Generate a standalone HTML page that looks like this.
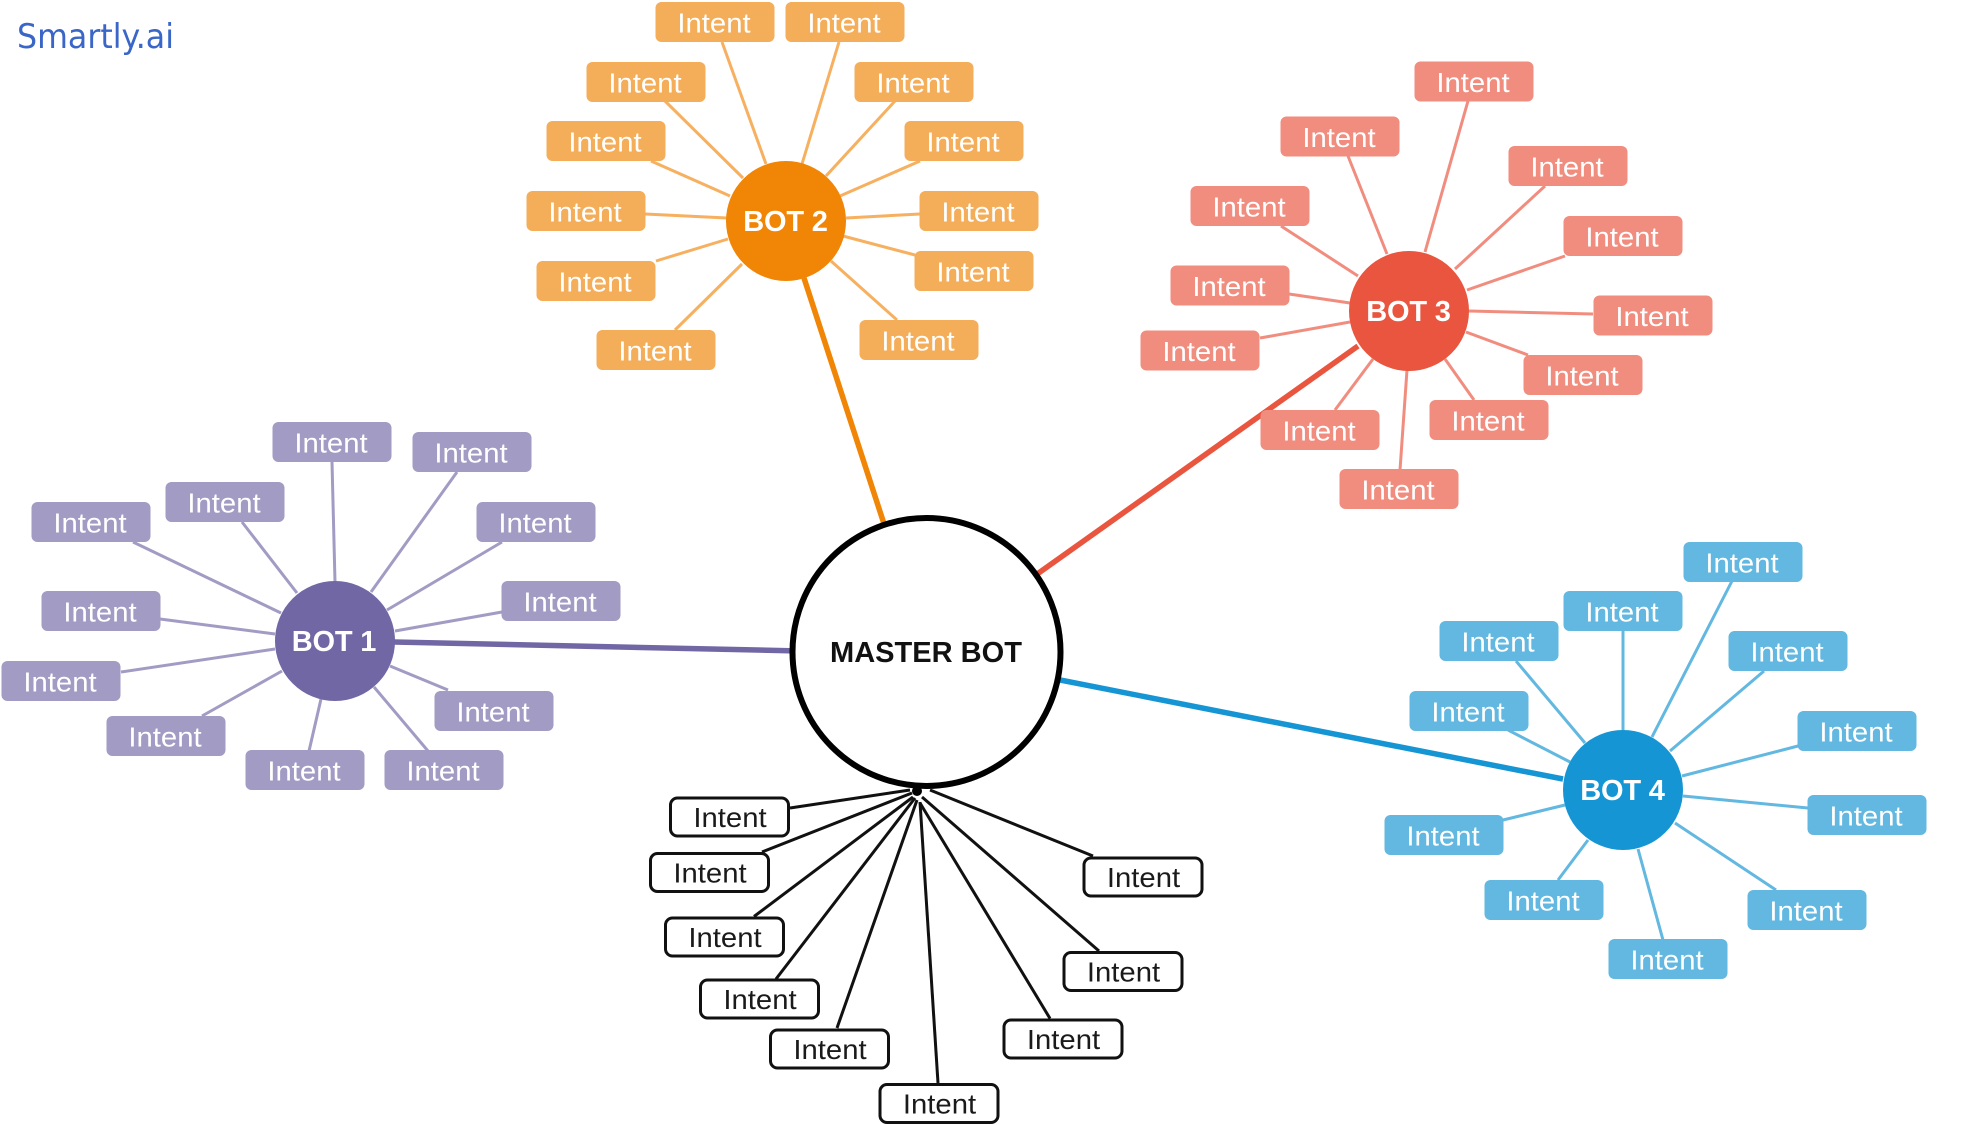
<!DOCTYPE html>
<html>
<head>
<meta charset="utf-8">
<style>
html,body{margin:0;padding:0;background:#fff;width:1964px;height:1125px;overflow:hidden}
svg{display:block;font-family:"Liberation Sans",sans-serif}
.b rect{x:-59.5px;y:-20px;width:119px;height:40px;rx:6px;ry:6px}
.b text{font-size:27.5px;fill:#fff;text-anchor:middle;transform:translateX(-1px) scaleX(1.065)}
.o rect{fill:#f4ad58}.p rect{fill:#a29bc4}.r rect{fill:#f18d7f}.u rect{fill:#62b8e0}
.k rect{fill:#fff;stroke:#111;stroke-width:3;x:-59px;y:-19px;width:118px;height:38px;rx:7px;ry:7px}
.b.k text{fill:#1a1a1a;transform:translateX(0.5px) scaleX(1.065)}
.c{font-size:29px;font-weight:bold;fill:#fff;text-anchor:middle;letter-spacing:-.2px}
line{fill:none}
.lo line{stroke:#f6b060;stroke-width:3}
.lp line{stroke:#a29bc4;stroke-width:3}
.lr line{stroke:#f18d7f;stroke-width:3}
.lu line{stroke:#62b8e0;stroke-width:3}
.lk line{stroke:#111;stroke-width:3}
</style>
</head>
<body>
<svg width="1964" height="1125" viewBox="0 0 1964 1125" xmlns="http://www.w3.org/2000/svg">
<rect width="1964" height="1125" fill="#fff"/>
<text x="17" y="48" font-size="34" fill="#3a66c8" textLength="157" lengthAdjust="spacingAndGlyphs" style="font-family:'DejaVu Sans',sans-serif">Smartly.ai</text>

<!-- trunks -->
<line x1="804" y1="278" x2="886" y2="530" stroke="#f08506" stroke-width="5.5"/>
<line x1="394" y1="642" x2="800" y2="651" stroke="#7167a5" stroke-width="5.5"/>
<line x1="1358" y1="346" x2="1033" y2="577" stroke="#e9553e" stroke-width="5.5"/>
<line x1="1050" y1="678" x2="1563" y2="779" stroke="#1595d3" stroke-width="5.5"/>

<!-- leaf lines -->
<g class="lo">
<line x1="722" y1="42" x2="766" y2="164"/><line x1="839" y1="42" x2="802" y2="164"/>
<line x1="665" y1="101" x2="743" y2="178"/><line x1="895" y1="101" x2="826" y2="176"/>
<line x1="651" y1="161" x2="730" y2="196"/><line x1="920" y1="161" x2="840" y2="196"/>
<line x1="645" y1="214" x2="727" y2="218"/><line x1="920" y1="214" x2="846" y2="218"/>
<line x1="656" y1="261" x2="728" y2="239"/><line x1="915" y1="255" x2="843" y2="236"/>
<line x1="675" y1="330" x2="742" y2="264"/><line x1="897" y1="320" x2="831" y2="261"/>
</g>
<g class="lp">
<line x1="332" y1="462" x2="335" y2="582"/><line x1="457" y1="472" x2="371" y2="592"/>
<line x1="242" y1="522" x2="297" y2="593"/><line x1="133" y1="542" x2="281" y2="613"/>
<line x1="502" y1="542" x2="387" y2="610"/><line x1="502" y1="612" x2="395" y2="631"/>
<line x1="160" y1="619" x2="275" y2="634"/><line x1="121" y1="672" x2="275" y2="649"/>
<line x1="448" y1="690" x2="390" y2="666"/><line x1="202" y1="716" x2="282" y2="671"/>
<line x1="309" y1="751" x2="321" y2="699"/><line x1="428" y1="751" x2="374" y2="687"/>
</g>
<g class="lr">
<line x1="1468" y1="101" x2="1425" y2="252"/><line x1="1348" y1="156" x2="1387" y2="254"/>
<line x1="1545" y1="186" x2="1455" y2="269"/><line x1="1281" y1="226" x2="1358" y2="276"/>
<line x1="1565" y1="256" x2="1467" y2="290"/><line x1="1289" y1="294" x2="1350" y2="303"/>
<line x1="1593" y1="314" x2="1469" y2="311"/><line x1="1260" y1="338" x2="1350" y2="322"/>
<line x1="1528" y1="355" x2="1466" y2="332"/><line x1="1474" y1="400" x2="1445" y2="359"/>
<line x1="1335" y1="410" x2="1373" y2="359"/><line x1="1400" y1="470" x2="1407" y2="370"/>
</g>
<g class="lu">
<line x1="1732" y1="581" x2="1652" y2="737"/><line x1="1623" y1="631" x2="1623" y2="731"/>
<line x1="1516" y1="661" x2="1585" y2="743"/><line x1="1764" y1="671" x2="1670" y2="751"/>
<line x1="1508" y1="730" x2="1570" y2="762"/><line x1="1798" y1="746" x2="1682" y2="776"/>
<line x1="1808" y1="808" x2="1683" y2="796"/><line x1="1503" y1="820" x2="1565" y2="805"/>
<line x1="1558" y1="880" x2="1588" y2="840"/><line x1="1776" y1="890" x2="1675" y2="823"/>
<line x1="1663" y1="940" x2="1638" y2="849"/>
</g>

<!-- master -->
<ellipse cx="926.5" cy="652" rx="134" ry="134" fill="#fff" stroke="#000" stroke-width="6"/>
<text x="926" y="662" font-size="28.5" font-weight="bold" fill="#111" text-anchor="middle" textLength="192" lengthAdjust="spacingAndGlyphs">MASTER BOT</text>
<g class="lk">
<line x1="790" y1="808" x2="910" y2="790"/><line x1="762" y1="852" x2="912" y2="793"/>
<line x1="754" y1="916.5" x2="913" y2="797"/><line x1="776" y1="979" x2="915" y2="798"/>
<line x1="837" y1="1028" x2="917" y2="800"/><line x1="938" y1="1083" x2="920" y2="802"/>
<line x1="1050" y1="1018.5" x2="920" y2="803"/><line x1="1099" y1="951" x2="922" y2="797"/>
<line x1="1093" y1="856" x2="930" y2="790"/>
</g>
<circle cx="917" cy="791" r="5" fill="#000"/>

<!-- bots -->
<circle cx="786" cy="221" r="60" fill="#f08506"/><text class="c" x="785.5" y="231">BOT 2</text>
<circle cx="335" cy="641" r="60" fill="#7167a5"/><text class="c" x="334" y="651">BOT 1</text>
<circle cx="1409" cy="311" r="60" fill="#e9553e"/><text class="c" x="1408.5" y="321">BOT 3</text>
<circle cx="1623" cy="790" r="60" fill="#1595d3"/><text class="c" x="1622.5" y="800">BOT 4</text>

<!-- orange -->
<g class="b o">
<g transform="translate(715 22)"><rect/><text y="10.5">Intent</text></g>
<g transform="translate(845 22)"><rect/><text y="10.5">Intent</text></g>
<g transform="translate(646 82)"><rect/><text y="10.5">Intent</text></g>
<g transform="translate(914 82)"><rect/><text y="10.5">Intent</text></g>
<g transform="translate(606 141)"><rect/><text y="10.5">Intent</text></g>
<g transform="translate(964 141)"><rect/><text y="10.5">Intent</text></g>
<g transform="translate(586 211)"><rect/><text y="10.5">Intent</text></g>
<g transform="translate(979 211)"><rect/><text y="10.5">Intent</text></g>
<g transform="translate(596 281)"><rect/><text y="10.5">Intent</text></g>
<g transform="translate(974 271)"><rect/><text y="10.5">Intent</text></g>
<g transform="translate(656 350)"><rect/><text y="10.5">Intent</text></g>
<g transform="translate(919 340)"><rect/><text y="10.5">Intent</text></g>
</g>
<!-- purple -->
<g class="b p">
<g transform="translate(332 442)"><rect/><text y="10.5">Intent</text></g>
<g transform="translate(472 452)"><rect/><text y="10.5">Intent</text></g>
<g transform="translate(225 502)"><rect/><text y="10.5">Intent</text></g>
<g transform="translate(91 522)"><rect/><text y="10.5">Intent</text></g>
<g transform="translate(536 522)"><rect/><text y="10.5">Intent</text></g>
<g transform="translate(561 601)"><rect/><text y="10.5">Intent</text></g>
<g transform="translate(101 611)"><rect/><text y="10.5">Intent</text></g>
<g transform="translate(61 681)"><rect/><text y="10.5">Intent</text></g>
<g transform="translate(494 711)"><rect/><text y="10.5">Intent</text></g>
<g transform="translate(166 736)"><rect/><text y="10.5">Intent</text></g>
<g transform="translate(305 770)"><rect/><text y="10.5">Intent</text></g>
<g transform="translate(444 770)"><rect/><text y="10.5">Intent</text></g>
</g>
<!-- red -->
<g class="b r">
<g transform="translate(1474 81.5)"><rect/><text y="10.5">Intent</text></g>
<g transform="translate(1340 136.5)"><rect/><text y="10.5">Intent</text></g>
<g transform="translate(1568 166)"><rect/><text y="10.5">Intent</text></g>
<g transform="translate(1250 206)"><rect/><text y="10.5">Intent</text></g>
<g transform="translate(1623 236)"><rect/><text y="10.5">Intent</text></g>
<g transform="translate(1230 285.5)"><rect/><text y="10.5">Intent</text></g>
<g transform="translate(1653 315.5)"><rect/><text y="10.5">Intent</text></g>
<g transform="translate(1200 350.5)"><rect/><text y="10.5">Intent</text></g>
<g transform="translate(1583 375)"><rect/><text y="10.5">Intent</text></g>
<g transform="translate(1489 420)"><rect/><text y="10.5">Intent</text></g>
<g transform="translate(1320 430)"><rect/><text y="10.5">Intent</text></g>
<g transform="translate(1399 489)"><rect/><text y="10.5">Intent</text></g>
</g>
<!-- blue -->
<g class="b u">
<g transform="translate(1743 562)"><rect/><text y="10.5">Intent</text></g>
<g transform="translate(1623 611)"><rect/><text y="10.5">Intent</text></g>
<g transform="translate(1499 641)"><rect/><text y="10.5">Intent</text></g>
<g transform="translate(1788 651)"><rect/><text y="10.5">Intent</text></g>
<g transform="translate(1469 711)"><rect/><text y="10.5">Intent</text></g>
<g transform="translate(1857 731)"><rect/><text y="10.5">Intent</text></g>
<g transform="translate(1867 815)"><rect/><text y="10.5">Intent</text></g>
<g transform="translate(1444 835)"><rect/><text y="10.5">Intent</text></g>
<g transform="translate(1544 900)"><rect/><text y="10.5">Intent</text></g>
<g transform="translate(1807 910)"><rect/><text y="10.5">Intent</text></g>
<g transform="translate(1668 959)"><rect/><text y="10.5">Intent</text></g>
</g>
<!-- black -->
<g class="b k">
<g transform="translate(729.5 817)"><rect/><text y="10">Intent</text></g>
<g transform="translate(709.5 872.5)"><rect/><text y="10">Intent</text></g>
<g transform="translate(724.5 937)"><rect/><text y="10">Intent</text></g>
<g transform="translate(759.5 999)"><rect/><text y="10">Intent</text></g>
<g transform="translate(829.5 1049)"><rect/><text y="10">Intent</text></g>
<g transform="translate(939 1103.5)"><rect/><text y="10">Intent</text></g>
<g transform="translate(1063 1039)"><rect/><text y="10">Intent</text></g>
<g transform="translate(1123 971.5)"><rect/><text y="10">Intent</text></g>
<g transform="translate(1143 877)"><rect/><text y="10">Intent</text></g>
</g>
</svg>
</body>
</html>
